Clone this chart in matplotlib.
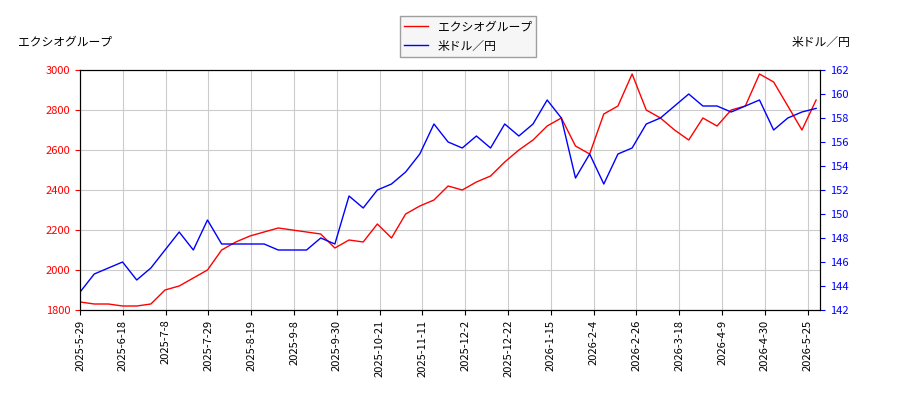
import matplotlib
matplotlib.use("Agg")
import matplotlib.pyplot as plt
import numpy as np

plt.rcParams['font.family'] = ['Noto Sans CJK JP', 'DejaVu Sans']

# weekly values (x axis is in trading days)
stock = [1840, 1830, 1830, 1820, 1820, 1830, 1900, 1920, 1960, 2000,
         2100, 2140, 2170, 2190, 2210, 2200, 2190, 2180, 2110, 2150,
         2140, 2230, 2160, 2280, 2320, 2350, 2420, 2400, 2440, 2470,
         2540, 2600, 2650, 2720, 2760, 2620, 2580, 2780, 2820, 2980,
         2800, 2760, 2700, 2650, 2760, 2720, 2800, 2820, 2980, 2940,
         2820, 2700, 2850]
usdjpy = [143.5, 145, 145.5, 146, 144.5, 145.5, 147, 148.5, 147, 149.5,
          147.5, 147.5, 147.5, 147.5, 147, 147, 147, 148, 147.5, 151.5,
          150.5, 152, 152.5, 153.5, 155, 157.5, 156, 155.5, 156.5, 155.5,
          157.5, 156.5, 157.5, 159.5, 158, 153, 155, 152.5, 155, 155.5,
          157.5, 158, 159, 160, 159, 159, 158.5, 159, 159.5, 157,
          158, 158.5, 158.8]
tick_dates = ["2025-5-29", "2025-6-18", "2025-7-8", "2025-7-29", "2025-8-19",
              "2025-9-8", "2025-9-30", "2025-10-21", "2025-11-11", "2025-12-2",
              "2025-12-22", "2026-1-15", "2026-2-4", "2026-2-26", "2026-3-18",
              "2026-4-9", "2026-4-30", "2026-5-25"]

x = np.arange(len(stock)) * 4.63  # trading days per week ~ 238 / 51.4
fig = plt.figure(figsize=(9, 4), dpi=100)
ax = fig.add_axes([0.089, 0.225, 0.822, 0.6])
ax2 = ax.twinx()

l1, = ax.plot(x, stock, color="red", lw=1, label="エクシオグループ")
l2, = ax2.plot(x, usdjpy, color="blue", lw=1, label="米ドル／円")

ax.set_ylim(1800, 3000)
ax2.set_ylim(142, 162)
ax2.set_yticks(range(142, 163, 2))
ax.set_xlim(0, 242)
ax.set_xticks(np.arange(len(tick_dates)) * 14)
ax.set_xticklabels(tick_dates, rotation=90, fontsize=8)
ax.tick_params(axis="y", colors="red", labelsize=8)
ax2.tick_params(axis="y", colors="blue", labelsize=8)
ax.grid(True, color="#cccccc", lw=0.8)

fig.text(0.02, 0.885, "エクシオグループ", fontsize=8.5)
fig.text(0.945, 0.885, "米ドル／円", fontsize=8.5, ha="right")
fig.legend(handles=[l1, l2], loc="upper center", bbox_to_anchor=(0.52, 0.975),
           fontsize=8.5, fancybox=False, edgecolor="#888888", facecolor="#f4f4f4")

fig.savefig("out.png")
